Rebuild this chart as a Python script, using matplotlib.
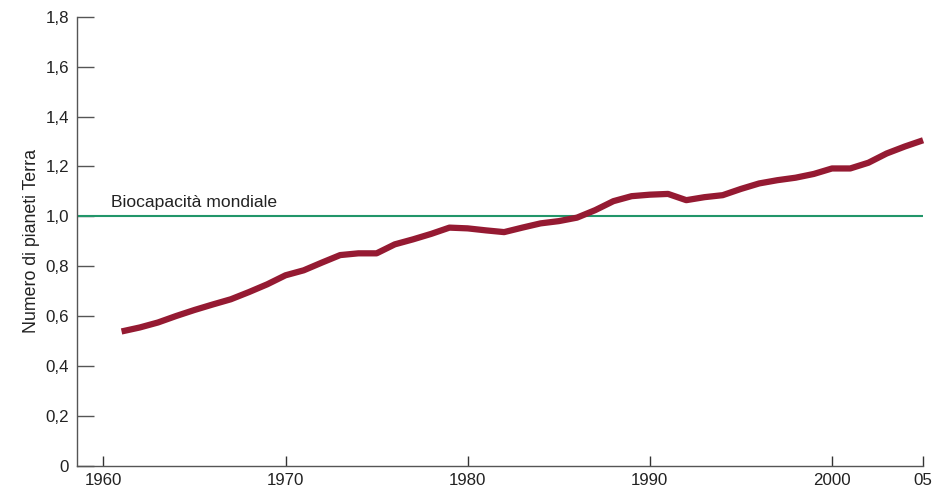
import numpy as np
import matplotlib
matplotlib.use("Agg")
import matplotlib.pyplot as plt

plt.rcParams['font.family'] = ['Liberation Sans', 'DejaVu Sans']

# Impronta ecologica dell'umanità (numero di pianeti Terra)
years = list(range(1961, 2006))
footprint = [0.539, 0.555, 0.575, 0.601, 0.625, 0.647, 0.668, 0.697, 0.728, 0.764,
             0.784, 0.815, 0.845, 0.852, 0.852, 0.888, 0.908, 0.930, 0.955, 0.952,
             0.944, 0.937, 0.955, 0.972, 0.981, 0.995, 1.025, 1.061, 1.081, 1.087,
             1.090, 1.065, 1.077, 1.085, 1.110, 1.132, 1.145, 1.155, 1.170, 1.192,
             1.192, 1.215, 1.252, 1.280, 1.305]
biocapacity = 1.0

xticks = [1960, 1970, 1980, 1990, 2000, 2005]
xticklabels = ["1960", "1970", "1980", "1990", "2000", "05"]
yticks = np.arange(0, 1.81, 0.2)
yticklabels = ["0"] + [f"{v:.1f}".replace(".", ",") for v in yticks[1:]]

fig = plt.figure(figsize=(9.38, 4.91), dpi=100)
ax = fig.add_axes([0.0826, 0.0509, 0.9015, 0.9151])

ax.axhline(biocapacity, color="#22966a", lw=1.5, zorder=2)
ax.text(1960.4, biocapacity + 0.025, "Biocapacità mondiale", fontsize=12.6,
        color="#222222", va="bottom", ha="left")
ax.plot(years, footprint, color="#951a32", lw=4.5, solid_capstyle="butt",
        zorder=3, clip_on=False)

ax.set_xlim(1958.58, 2005)
ax.set_ylim(0, 1.8)
ax.set_xticks(xticks)
ax.set_xticklabels(xticklabels)
ax.set_yticks(yticks)
ax.set_yticklabels(yticklabels)
ax.set_ylabel("Numero di pianeti Terra", fontsize=12.8, color="#222222", labelpad=4)

for s in ["top", "right"]:
    ax.spines[s].set_visible(False)
for s in ["left", "bottom"]:
    ax.spines[s].set_color("#555555")
    ax.spines[s].set_linewidth(1.0)

ax.tick_params(axis="y", direction="in", length=12.5, width=1.0, color="#555555",
               labelsize=12.2, labelcolor="#222222", pad=6)
ax.tick_params(axis="x", direction="in", length=7.5, width=1.0, color="#333333",
               labelsize=12.2, labelcolor="#222222", pad=5)

fig.savefig("out.png", dpi=100)
plt.close(fig)
